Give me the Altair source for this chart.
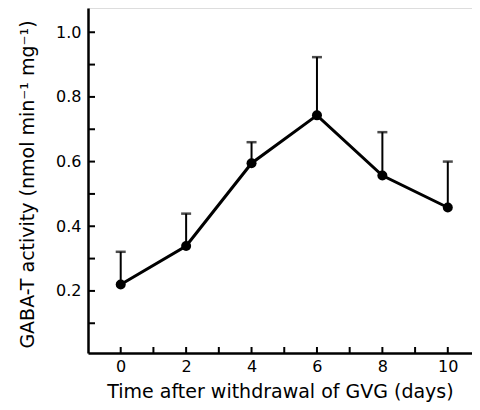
import altair as alt
import pandas as pd

days = [0, 2, 4, 6, 8, 10]
activity = [0.22, 0.339, 0.595, 0.743, 0.557, 0.458]
err_top = [0.321, 0.439, 0.66, 0.923, 0.691, 0.60]

x_ticks = [0, 1, 2, 3, 4, 5, 6, 7, 8, 9, 10]
x_labels = [0, 2, 4, 6, 8, 10]
y_ticks = [0.1, 0.2, 0.3, 0.4, 0.5, 0.6, 0.7, 0.8, 0.9, 1.0]
y_labels = [0.2, 0.4, 0.6, 0.8, 1.0]

W, H = 384, 345
FONT = "DejaVu Sans"

df = pd.DataFrame({"day": days, "act": activity, "top": err_top})
xt = pd.DataFrame({"t": x_ticks})
yt = pd.DataFrame({"t": y_ticks})

xscale = alt.Scale(domain=[-1, 10.74], nice=False, zero=False)
yscale = alt.Scale(domain=[0.008, 1.075], nice=False, zero=False)

xaxis = alt.Axis(
    values=x_labels, ticks=False, grid=False, domainColor="black", domainWidth=2.5,
    labelFont=FONT, labelFontSize=16, labelColor="black", labelPadding=5,
    title="Time after withdrawal of GVG (days)", titleFont=FONT, titleFontSize=19,
    titleFontWeight="normal", titleColor="black", titleX=192, titleY=44,
    titleBaseline="alphabetic", titleAlign="center", format="d",
)
yaxis = alt.Axis(
    values=y_labels, ticks=False, grid=False, domainColor="black", domainWidth=2.5,
    labelFont=FONT, labelFontSize=16, labelColor="black", labelPadding=7,
    title="GABA-T activity (nmol min⁻¹ mg⁻¹)", titleFont=FONT, titleFontSize=19,
    titleFontWeight="normal", titleColor="black", titleX=-55, titleY=176,
    titleAngle=270, titleBaseline="alphabetic", titleAlign="center", format=".1f",
)

base = alt.Chart(df)

line = base.mark_line(color="black", strokeWidth=3).encode(
    x=alt.X("day:Q", scale=xscale, axis=xaxis),
    y=alt.Y("act:Q", scale=yscale, axis=yaxis),
)
pts = base.mark_circle(color="black", opacity=1, size=100).encode(
    x=alt.X("day:Q", scale=xscale), y=alt.Y("act:Q", scale=yscale)
)
err = base.mark_rule(color="black", strokeWidth=2).encode(
    x=alt.X("day:Q", scale=xscale), y=alt.Y("act:Q", scale=yscale), y2="top:Q"
)
cap = base.mark_tick(color="black", orient="horizontal", size=10, thickness=2.5).encode(
    x=alt.X("day:Q", scale=xscale), y=alt.Y("top:Q", scale=yscale)
)
xtick = alt.Chart(xt).mark_rule(color="black", strokeWidth=2).encode(
    x=alt.X("t:Q", scale=xscale), y=alt.value(H), y2=alt.value(H - 6)
)
ytick = alt.Chart(yt).mark_rule(color="black", strokeWidth=2).encode(
    y=alt.Y("t:Q", scale=yscale), x=alt.value(0), x2=alt.value(7)
)

chart = alt.layer(line, err, cap, pts, xtick, ytick).properties(
    width=W, height=H,
    autosize=alt.AutoSizeParams(type="none"),
    padding={"left": 80, "top": 0, "right": 0, "bottom": 49},
).configure_view(stroke=None).configure(background="white")

chart.save("out.html", embed_options={"renderer": "svg", "actions": False})
